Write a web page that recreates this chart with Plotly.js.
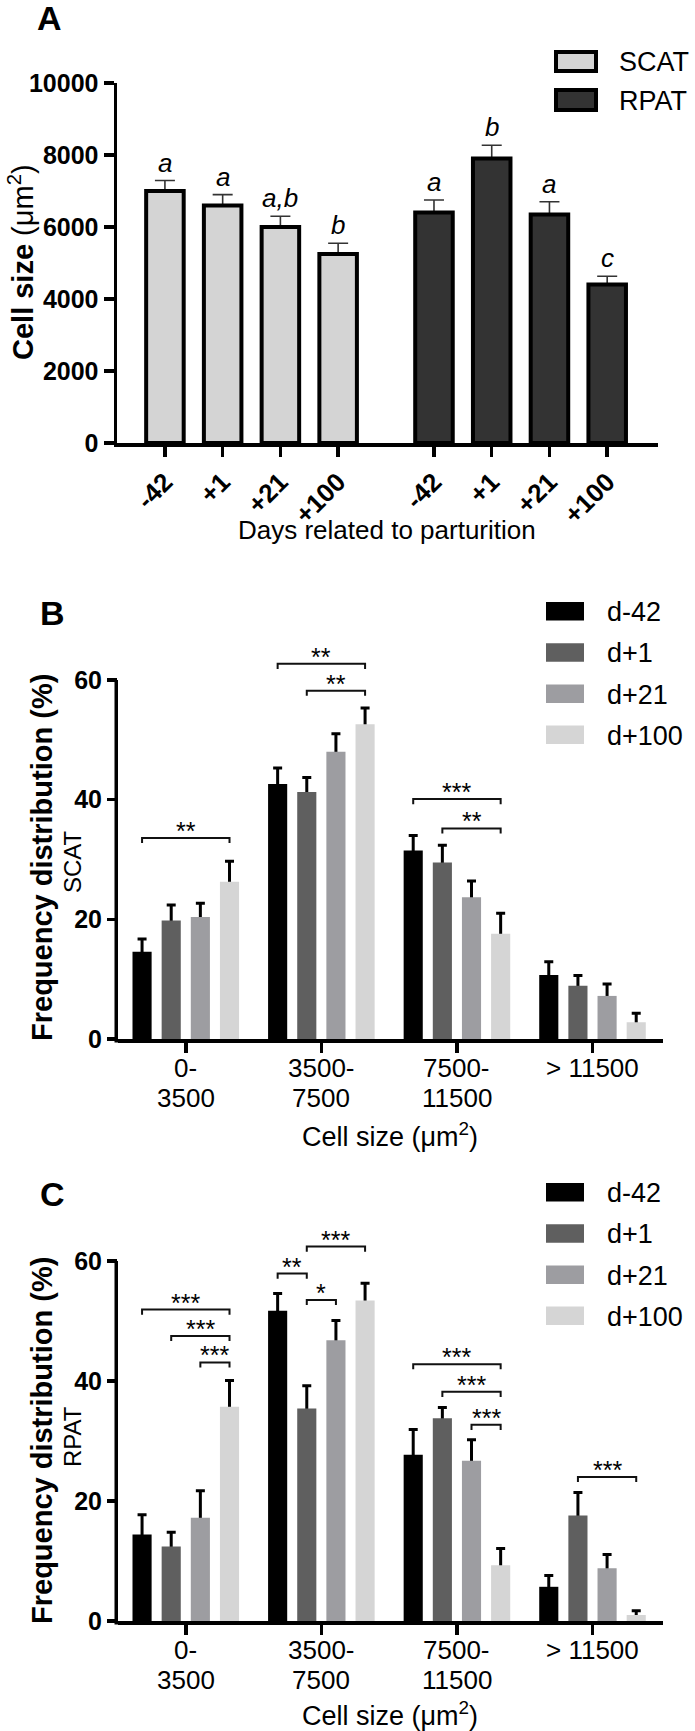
<!DOCTYPE html>
<html><head><meta charset="utf-8">
<script src="https://cdn.plot.ly/plotly-3.0.1.min.js"></script>
<style>html,body{margin:0;padding:0;background:#fff;} #chart{width:695px;height:1731px;}</style>
</head><body><div id="chart"></div>
<script>
// ================= DATA =================
// Panel A: mean adipocyte size (µm²) ± SE
const dayLabels = ['-42', '+1', '+21', '+100'];
const tissueNames = ['SCAT', 'RPAT'];
const scatSize = [7000, 6600, 6000, 5250];
const scatSE   = [290, 300, 300, 300];
const rpatSize = [6400, 7900, 6350, 4400];
const rpatSE   = [350, 370, 350, 230];
const scatLetters = ['a', 'a', 'a,b', 'b'];
const rpatLetters = ['a', 'b', 'a', 'c'];
const sizeTicks = [0, 2000, 4000, 6000, 8000, 10000];
const sizeTickText = ['0', '2000', '4000', '6000', '8000', '10000'];

// Panels B & C: frequency distribution (%) by cell size class
const sizeClasses = ['0-<br>3500', '3500-<br>7500', '7500-<br>11500', '> 11500'];
const dayGroups = ['d-42', 'd+1', 'd+21', 'd+100'];
const freqTicks = [0, 20, 40, 60];

const scatD42  = [14.6, 42.6, 31.5, 10.7];
const scatD1   = [19.8, 41.3, 29.5, 8.9];
const scatD21  = [20.4, 48.0, 23.7, 7.2];
const scatD100 = [26.3, 52.6, 17.6, 2.8];
const scatD42SE  = [2.1, 2.7, 2.5, 2.2];
const scatD1SE   = [2.6, 2.4, 2.9, 1.7];
const scatD21SE  = [2.3, 3.0, 2.7, 2.0];
const scatD100SE = [3.4, 2.7, 3.4, 1.5];

const rpatD42  = [14.4, 51.7, 27.7, 5.7];
const rpatD1   = [12.4, 35.4, 33.8, 17.6];
const rpatD21  = [17.2, 46.8, 26.7, 8.8];
const rpatD100 = [35.7, 53.4, 9.3, 1.0];
const rpatD42SE  = [3.3, 2.9, 4.2, 1.9];
const rpatD1SE   = [2.4, 3.8, 1.8, 3.8];
const rpatD21SE  = [4.5, 3.3, 3.5, 2.3];
const rpatD100SE = [4.4, 2.9, 2.8, 0.7];

// significance brackets: [class index, from group, to group, height (%), label]
const scatSig = [
  [0, 0, 3, 33.6, '**'], [1, 0, 3, 62.7, '**'], [1, 1, 3, 58.2, '**'],
  [2, 0, 3, 40.1, '***'], [2, 1, 3, 35.2, '**']
];
const rpatSig = [
  [0, 0, 3, 51.9, '***'], [0, 1, 3, 47.5, '***'], [0, 2, 3, 43.1, '***'],
  [1, 0, 1, 57.9, '**'], [1, 1, 3, 62.4, '***'], [1, 1, 2, 53.5, '*'],
  [2, 0, 3, 42.8, '***'], [2, 1, 3, 38.2, '***'], [2, 2, 3, 32.7, '***'],
  [3, 1, 3, 24.0, '***']
];

// ================= STYLE / LAYOUT =================
const W = 695, H = 1731;
const FONT = 'Liberation Sans, Arial, Helvetica, sans-serif';
const INK = '#000';
const px = v => v / W;
const py = v => 1 - v / H;

const groupColors = ['#000000', '#5f5f5f', '#9d9da1', '#d5d5d5'];
const tissueColors = ['#d4d4d4', '#333333'];

const BARGAP = 0.14, BARGROUPGAP = 0.344;
const GROUP_GAP_A = 1.66;  // spacing between SCAT and RPAT blocks (slot units)
const barWidthA = 0.65;

// panel pixel geometry
const PA = {l: 117, r: 658, b: 443, t: 83};
const PB = {l: 118, r: 663, b: 1039, t: 680};   // t = pixel of 60 %
const PC = {l: 118, r: 663, b: 1621, t: 1261};
const YMAX = 60, YTOP = 66;
function yDom(P) {
  const ppu = (P.b - P.t) / YMAX;
  return [py(P.b), py(P.b - ppu * YTOP)];
}

const scatX = dayLabels.map((_, i) => i);
const rpatX = dayLabels.map((_, i) => i + 3 + GROUP_GAP_A);

function barX(cat, k) { return cat + (k - 1.5) * (1 - BARGAP) / 4; }

const traces = [];

// ---- Panel A ----
[[scatX, scatSize, scatSE, 0], [rpatX, rpatSize, rpatSE, 1]].forEach(([xs, ys, se, t]) => {
  traces.push({
    type: 'bar', x: xs, y: ys, xaxis: 'x', yaxis: 'y', name: tissueNames[t] + ' SE',
    width: barWidthA, offset: -barWidthA / 2, showlegend: false, hoverinfo: 'skip',
    marker: {color: 'rgba(0,0,0,0)', line: {width: 0}},
    error_y: {type: 'data', array: se, symmetric: true, color: '#333', thickness: 1.6, width: 10}
  });
});
[[scatX, scatSize, 0], [rpatX, rpatSize, 1]].forEach(([xs, ys, t]) => {
  traces.push({
    type: 'bar', x: xs, y: ys, xaxis: 'x', yaxis: 'y', name: tissueNames[t],
    width: barWidthA, offset: -barWidthA / 2, showlegend: false,
    marker: {color: tissueColors[t], line: {color: INK, width: 4}}
  });
});

// ---- Panels B & C ----
function addFreq(vals, ses, xa, ya) {
  vals.forEach((v, k) => traces.push({
    type: 'bar', x: sizeClasses, y: v, xaxis: xa, yaxis: ya, offsetgroup: dayGroups[k],
    name: dayGroups[k] + ' SE', showlegend: false, hoverinfo: 'skip',
    marker: {color: 'rgba(0,0,0,0)', line: {width: 0}},
    error_y: {type: 'data', array: ses[k], symmetric: true, color: INK, thickness: 3, width: 4.5}
  }));
  vals.forEach((v, k) => traces.push({
    type: 'bar', x: sizeClasses, y: v, xaxis: xa, yaxis: ya, offsetgroup: dayGroups[k],
    name: dayGroups[k], showlegend: false,
    marker: {color: groupColors[k], line: {width: 0}}
  }));
}
addFreq([scatD42, scatD1, scatD21, scatD100], [scatD42SE, scatD1SE, scatD21SE, scatD100SE], 'x2', 'y2');
addFreq([rpatD42, rpatD1, rpatD21, rpatD100], [rpatD42SE, rpatD1SE, rpatD21SE, rpatD100SE], 'x3', 'y3');

// ---- shapes & annotations ----
const shapes = [];
const annotations = [];
function txt(text, x, y, size, opts) {
  annotations.push(Object.assign({
    text, x, y, xref: 'paper', yref: 'paper', showarrow: false,
    xanchor: 'center', yanchor: 'middle', font: {family: FONT, size, color: INK}
  }, opts || {}));
}

// panel letters
txt('<b>A</b>', px(49), py(18), 34);
txt('<b>B</b>', px(52), py(613), 34);
txt('<b>C</b>', px(52), py(1194), 34);

// axis titles
txt('<b>Cell size</b> (μm<sup>2</sup>)', px(21), py(262), 29, {textangle: -90});
txt('Days related to parturition', px(387), py(530), 26);
txt('<b>Frequency distribution (%)</b>', px(42), py(858), 29, {textangle: -90});
txt(tissueNames[0], px(72), py(862), 24, {textangle: -90});
txt('Cell size (μm<sup>2</sup>)', px(390), py(1135), 27);
txt('<b>Frequency distribution (%)</b>', px(42), py(1441), 29, {textangle: -90});
txt(tissueNames[1], px(72), py(1437), 24, {textangle: -90});
txt('Cell size (μm<sup>2</sup>)', px(390), py(1714), 27);

// category tick labels for B & C (two tight lines)
[['x2', PB], ['x3', PC]].forEach(([xa, P]) => {
  sizeClasses.forEach((c, i) => c.split('<br>').forEach((line, j) => annotations.push({
    xref: xa, yref: 'paper', x: i, y: py(P.b + 29 + 29.5 * j), text: line, showarrow: false,
    xanchor: 'center', yanchor: 'middle', font: {family: FONT, size: 26, color: INK}
  })));
});

// legend A
[[52, 71], [90, 110]].forEach(([y0, y1], t) => {
  shapes.push({type: 'rect', xref: 'paper', yref: 'paper', x0: px(556), x1: px(596), y0: py(y1), y1: py(y0),
    fillcolor: tissueColors[t], line: {color: INK, width: 4}});
  txt(tissueNames[t], px(617), py((y0 + y1) / 2 + 1), 27, {xanchor: 'left'});
});
// legends B & C
[602, 1183].forEach(top => {
  dayGroups.forEach((g, k) => {
    const y0 = top + k * 41.2, y1 = y0 + 18.5;
    shapes.push({type: 'rect', xref: 'paper', yref: 'paper', x0: px(546), x1: px(584), y0: py(y1), y1: py(y0),
      fillcolor: groupColors[k], line: {width: 0}});
    txt(g, px(605), py((y0 + y1) / 2 + 1), 27, {xanchor: 'left'});
  });
});

// letters above panel A bars
scatLetters.forEach((l, i) => annotations.push({xref: 'x', yref: 'y', x: scatX[i], y: scatSize[i] + scatSE[i],
  text: '<i>' + l + '</i>', showarrow: false, yanchor: 'bottom', yshift: 1, font: {family: FONT, size: 26, color: INK}}));
rpatLetters.forEach((l, i) => annotations.push({xref: 'x', yref: 'y', x: rpatX[i], y: rpatSize[i] + rpatSE[i],
  text: '<i>' + l + '</i>', showarrow: false, yanchor: 'bottom', yshift: 1, font: {family: FONT, size: 26, color: INK}}));

// significance brackets
function addSig(list, xa, ya) {
  list.forEach(([c, i, j, h, lab]) => {
    const x0 = barX(c, i), x1 = barX(c, j), d = 0.85;
    shapes.push({type: 'path', xref: xa, yref: ya,
      path: `M${x0},${h - d} L${x0},${h} L${x1},${h} L${x1},${h - d}`,
      line: {color: '#111', width: 2}});
    annotations.push({xref: xa, yref: ya, x: (x0 + x1) / 2, y: h, text: lab, showarrow: false,
      yanchor: 'bottom', yshift: -9, font: {family: FONT, size: 25, color: INK}});
  });
}
addSig(scatSig, 'x2', 'y2');
addSig(rpatSig, 'x3', 'y3');

// manual y axis lines for B & C (end at 60 %)
[PB, PC].forEach(P => {
  const d = yDom(P);
  shapes.push({type: 'line', xref: 'paper', yref: 'paper',
    xsizemode: 'pixel', xanchor: px(P.l), x0: -1.75, x1: -1.75,
    y0: d[0] - 3.5 / H, y1: d[0] + (d[1] - d[0]) * YMAX / YTOP,
    line: {color: INK, width: 3.5}});
});

const axCommon = {showgrid: false, zeroline: false, ticks: 'outside', ticklen: 10, tickwidth: 3.5,
  tickcolor: INK, linecolor: INK, linewidth: 3.5, fixedrange: true};

const layout = {
  width: W, height: H, margin: {l: 0, r: 0, t: 0, b: 0},
  paper_bgcolor: '#fff', plot_bgcolor: '#fff', showlegend: false,
  font: {family: FONT, color: INK},
  barmode: 'group', bargap: BARGAP, bargroupgap: BARGROUPGAP,
  xaxis: Object.assign({}, axCommon, {domain: [px(PA.l), px(PA.r)], anchor: 'y', range: [-0.83, 8.54],
    tickvals: scatX.concat(rpatX), ticktext: dayLabels.concat(dayLabels), tickangle: -45,
    tickfont: {family: FONT, size: 26, weight: 'bold', color: INK}, showline: true}),
  yaxis: Object.assign({}, axCommon, {domain: [py(PA.b), py(PA.t)], anchor: 'x', range: [0, 10000],
    tickvals: sizeTicks, ticktext: sizeTickText,
    tickfont: {family: FONT, size: 25, weight: 'bold', color: INK}, showline: true}),
  xaxis2: Object.assign({}, axCommon, {domain: [px(PB.l), px(PB.r)], anchor: 'y2', type: 'category',
    range: [-0.5, 3.52], showticklabels: false, showline: true}),
  yaxis2: Object.assign({}, axCommon, {domain: yDom(PB), anchor: 'x2', range: [0, YTOP],
    tickvals: freqTicks, tickfont: {family: FONT, size: 25, weight: 'bold', color: INK}, showline: false}),
  xaxis3: Object.assign({}, axCommon, {domain: [px(PC.l), px(PC.r)], anchor: 'y3', type: 'category',
    range: [-0.5, 3.52], showticklabels: false, showline: true}),
  yaxis3: Object.assign({}, axCommon, {domain: yDom(PC), anchor: 'x3', range: [0, YTOP],
    tickvals: freqTicks, tickfont: {family: FONT, size: 25, weight: 'bold', color: INK}, showline: false}),
  shapes, annotations
};

Plotly.newPlot('chart', traces, layout, {displayModeBar: false, staticPlot: true});
</script>
</body></html>
